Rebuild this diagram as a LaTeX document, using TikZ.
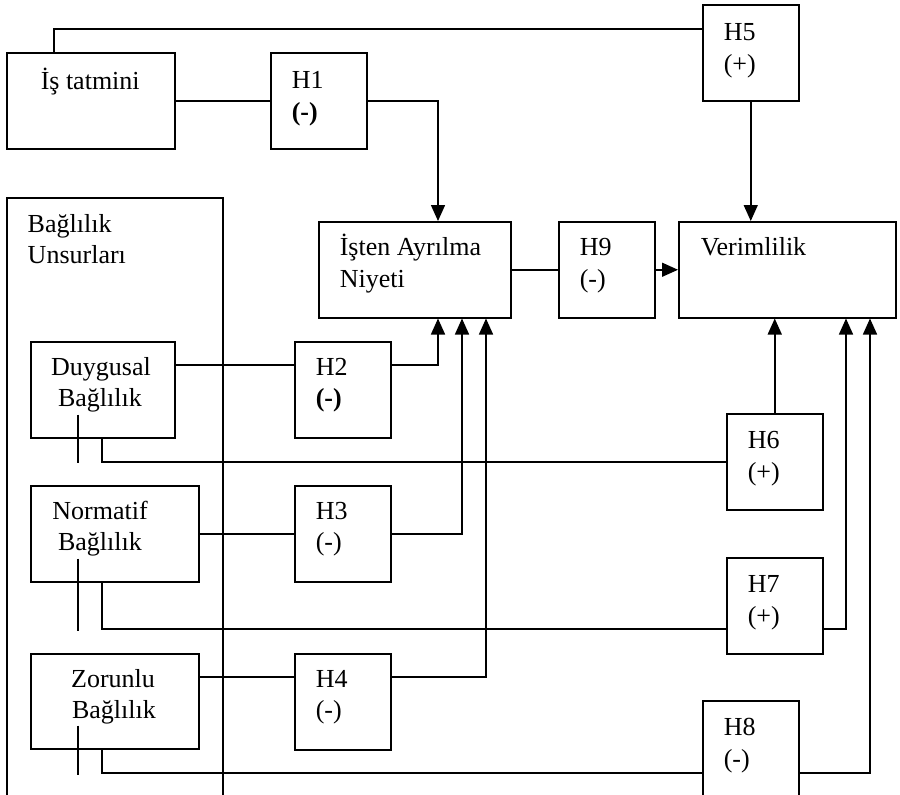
\documentclass[tikz,border=0pt]{standalone}
\usepackage{fontspec}
\setmainfont{Liberation Serif}
\usetikzlibrary{arrows.meta}
\begin{document}
\begin{tikzpicture}[x=0.5pt,y=-0.5pt,
  line width=0.75pt,
  bx/.style={draw,line width=0.75pt,anchor=north west,inner sep=0pt,minimum width=#1},
  bx/.default=48pt,
  hh/.style={bx, minimum height=48pt},
  tx/.style={anchor=base west,inner sep=0pt,font=\fontsize{13}{15.5}\selectfont},
  tc/.style={anchor=base,inner sep=0pt,font=\fontsize{13}{15.5}\selectfont},
  arr/.style={-{Triangle[length=8pt,width=7pt]}}]
\useasboundingbox (0,0) rectangle (900,794);
\begin{scope}
\clip (0,0) rectangle (900,794);
% boxes
\node[bx=84pt,minimum height=48pt] (sat) at (6,52) {};
\node[hh] (h5) at (702,4) {};
\node[hh] (h1) at (270,52) {};
\node[bx=108pt,minimum height=310pt] (bag) at (6,197) {};
\node[bx=96pt,minimum height=48pt] (ist) at (318,221) {};
\node[hh] (h9) at (558,221) {};
\node[bx=108.5pt,minimum height=48pt] (ver) at (678,221) {};
\node[bx=72pt,minimum height=48pt] (duy) at (30,341) {};
\node[hh] (h2) at (294,341) {};
\node[hh] (h6) at (726,413) {};
\node[bx=84pt,minimum height=48pt] (nor) at (30,485) {};
\node[hh] (h3) at (294,485) {};
\node[hh] (h7) at (726,557) {};
\node[bx=84pt,minimum height=47.5pt] (zor) at (30,653) {};
\node[hh] (h4) at (294,653) {};
\node[hh] (h8) at (702,700) {};
% texts
\node[tx] (tsat) at (40,89) {İş tatmini};
\node[tx] (th1a) at (291,88) {H1};
\node[tx] (th1b) at (291,120) {\textbf{(-)}};
\node[tx] (th5a) at (723,40) {H5};
\node[tx] (th5b) at (723,72) {(+)};
\node[tx] (tbaga) at (27,232) {Bağlılık};
\node[tx] (tbagb) at (27,263) {Unsurları};
\node[tx] (tista) at (339,255) {İşten Ayrılma};
\node[tx] (tistb) at (339,287) {Niyeti};
\node[tx] (th9a) at (579,255) {H9};
\node[tx] (th9b) at (579,287) {(-)};
\node[tx] (tver) at (700,255) {Verimlilik};
\node[tc] (tduya) at (101,375) {Duygusal};
\node[tc] (tduyb) at (100,406) {Bağlılık};
\node[tx] (th2a) at (315,375) {H2};
\node[tx] (th2b) at (315,406) {\textbf{(-)}};
\node[tx] (th6a) at (747,448) {H6};
\node[tx] (th6b) at (747,480) {(+)};
\node[tc] (tnora) at (100,519) {Normatif};
\node[tc] (tnorb) at (100,550) {Bağlılık};
\node[tx] (th3a) at (315,519) {H3};
\node[tx] (th3b) at (315,550) {(-)};
\node[tx] (th7a) at (747,592) {H7};
\node[tx] (th7b) at (747,624) {(+)};
\node[tc] (tzora) at (113,687) {Zorunlu};
\node[tc] (tzorb) at (114,718) {Bağlılık};
\node[tx] (th4a) at (315,687) {H4};
\node[tx] (th4b) at (315,718) {(-)};
\node[tx] (th8a) at (723,735) {H8};
\node[tx] (th8b) at (723,767) {(-)};
% connectors
\draw ([xshift=24pt]sat.north west) |- ([yshift=-12.5pt]h5.north west);
\draw (sat.east) -- (h1.west);
\draw[arr] (h1.east) -| ([xshift=60pt]ist.north west);
\draw[arr] (h5.south) -- (h5.south |- ver.north);
\draw (ist.east) -- (h9.west);
\draw[arr] (h9.east) -- (ver.west);
\draw ([yshift=-12pt]duy.north east) -- ([yshift=-12pt]h2.north west);
\draw[arr] ([yshift=-12pt]h2.north east) -| ([xshift=60pt]ist.south west);
\draw (nor.east) -- (h3.west);
\draw[arr] (h3.east) -| ([xshift=72pt]ist.south west);
\draw ([yshift=-12pt]zor.north east) -- ([yshift=-12pt]h4.north west);
\draw[arr] ([yshift=-12pt]h4.north east) -| ([xshift=84pt]ist.south west);
\draw[arr] (h6.north) -- (h6.north |- ver.south);
\draw ([xshift=36pt]duy.south west) |- (h6.west);
\draw ([xshift=36pt]nor.south west) |- ([yshift=-36pt]h7.north west);
\draw[arr] ([yshift=-36pt]h7.north east) -| ([xshift=84pt]ver.south west);
\draw ([xshift=36pt]zor.south west) |- ([yshift=-36.5pt]h8.north west);
\draw[arr] ([yshift=-36.5pt]h8.north east) -| ([xshift=96pt]ver.south west);
% short stubs
\coordinate (d1) at ([xshift=24pt,yshift=12pt]duy.south west);
\coordinate (d2) at ([xshift=24pt,yshift=-12pt]duy.south west);
\coordinate (n1) at ([xshift=24pt,yshift=12pt]nor.south west);
\coordinate (n2) at ([xshift=24pt,yshift=-24pt]nor.south west);
\coordinate (z1) at ([xshift=24pt,yshift=12pt]zor.south west);
\coordinate (z2) at ([xshift=24pt,yshift=-12.5pt]zor.south west);
\draw (d1) -- (d2);
\draw (n1) -- (n2);
\draw (z1) -- (z2);
\end{scope}
\end{tikzpicture}
\end{document}
